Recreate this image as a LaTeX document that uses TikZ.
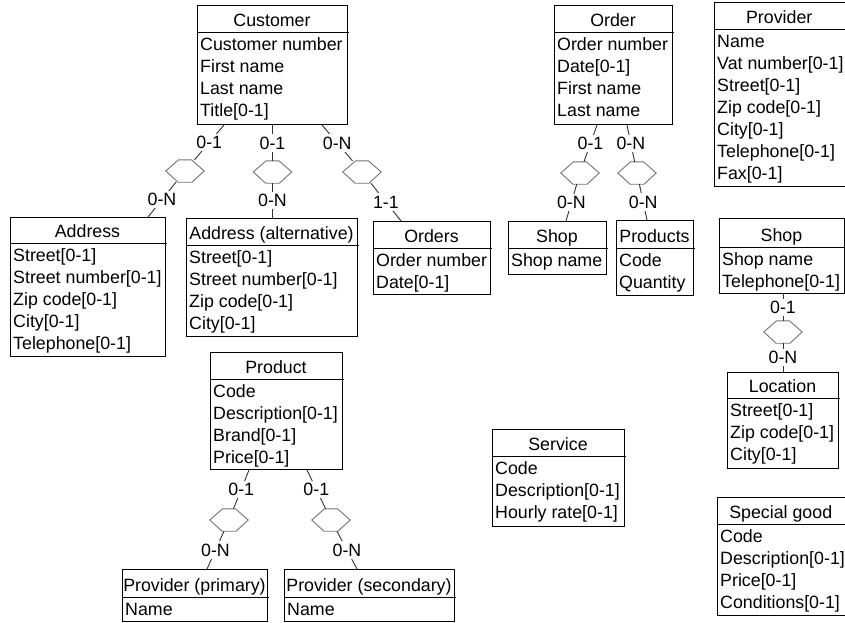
\documentclass[tikz,border=0pt]{standalone}
\usepackage{fontspec}
\setmainfont{Liberation Sans}
\usetikzlibrary{calc}

\tikzset{
  txt/.style={font=\fontsize{17.8}{21}\selectfont},
  ent/.style={draw=black, line width=1pt, inner sep=0pt, anchor=north west},
  enttitle/.style={txt, inner sep=0pt, anchor=base},
  attr/.style={txt, inner sep=0pt, anchor=base west},
  rel/.style={rectangle, minimum width=38pt, minimum height=22pt, inner sep=0pt},
  relline/.style={draw=black!55, line width=0.9pt},
  link/.style={draw=black!80, line width=0.9pt},
  card/.style={txt, fill=white, inner sep=2.5pt},
}

% #1 name, #2 left, #3 top, #4 right, #5 y of header rule, #6 bottom, #7 title, #8 attributes
\newcommand\erentity[8]{%
  \node[ent, minimum width={(#4-#2)*1pt}, minimum height={(#6-#3)*1pt}] (#1) at (#2,#3) {};
  \draw[line width=1pt] (#2,#5) -- ({#4+2},#5);
  \node[enttitle] (#1-title) at ({(#2+#4)/2},{#5-5.5}) {#7};
  \foreach \t [count=\i from 0] in {#8}
    \node[attr] (#1-\i) at ({#2+3},{#5+18.3+22.1*\i}) {\t};
}

% #1 name, #2 #3 centre, #4 upper end, #5 lower end, #6 upper cardinality, #7 lower cardinality
\newcommand\errel[7]{%
  \node[rel] (#1) at (#2,#3) {};
  \draw[relline] (#1.west) -- ($(#1.north)+(-6.5,0)$) -- ($(#1.north)+(6.5,0)$)
    -- (#1.east) -- ($(#1.south)+(7,0)$) -- ($(#1.south)+(-7,0)$) -- cycle;
  \draw[link] (#4) -- node[card] (#1-up) {#6} (#1);
  \draw[link] (#1) -- node[card] (#1-down) {#7} (#5);
}

\begin{document}
\begin{tikzpicture}[x=1pt, y=-1pt]
\useasboundingbox (0,0) rectangle (845,622);

\erentity{cust}{197}{5}{347}{32}{124}{Customer}{Customer number,First name,Last name,Title[0-1]}
\erentity{addr}{10}{217}{165}{243}{356}{Address}{Street[0-1],Street number[0-1],Zip code[0-1],City[0-1],Telephone[0-1]}
\erentity{addralt}{186}{218}{357}{245}{336}{Address (alternative)}{Street[0-1],Street number[0-1],Zip code[0-1],City[0-1]}
\erentity{orders}{373}{221}{490}{248}{294}{Orders}{Order number,Date[0-1]}
\erentity{order}{554}{5}{672}{32}{124}{Order}{Order number,Date[0-1],First name,Last name}
\erentity{prov}{714}{2}{844.5}{29}{186}{Provider}{Name,Vat number[0-1],Street[0-1],Zip code[0-1],City[0-1],Telephone[0-1],Fax[0-1]}
\erentity{shopl}{508}{221}{606}{248}{274}{Shop}{Shop name}
\erentity{products}{616}{220}{693}{248}{295}{Products}{Code,Quantity}
\erentity{shopr}{719}{218}{844}{247}{293}{Shop}{Shop name,Telephone[0-1]}
\erentity{loc}{727}{372}{838}{398}{468}{Location}{Street[0-1],Zip code[0-1],City[0-1]}
\erentity{serv}{492}{429}{624}{456}{526}{Service}{Code,Description[0-1],Hourly rate[0-1]}
\erentity{special}{717}{497}{844.5}{524}{615}{Special good}{Code,Description[0-1],Price[0-1],Conditions[0-1]}
\erentity{product}{210}{352}{342}{379}{469}{Product}{Code,Description[0-1],Brand[0-1],Price[0-1]}
\erentity{provp}{122}{569}{267}{597}{621}{Provider (primary)}{Name}
\erentity{provs}{284}{569}{454}{597}{621}{Provider (secondary)}{Name}

\errel{r1}{185}{171}{$(cust.south west)+(27,0)$}{$(addr.north west)+(138,0)$}{0-1}{0-N}
\errel{r2}{272.5}{172}{$(cust.south west)+(75.5,0)$}{$(addralt.north west)+(86.5,0)$}{0-1}{0-N}
\errel{r3}{362}{172}{$(cust.south west)+(125,0)$}{$(orders.north west)+(28,0)$}{0-N}{1-1}
\errel{r4}{580}{173}{$(order.south west)+(43,0)$}{$(shopl.north west)+(58,0)$}{0-1}{0-N}
\errel{r5}{637}{173}{$(order.south west)+(73,0)$}{$(products.north west)+(31,0)$}{0-N}{0-N}
\errel{r6}{783}{332}{$(shopr.south west)+(64,0)$}{$(loc.north west)+(56,0)$}{0-1}{0-N}
\errel{r7}{229}{520}{$(product.south west)+(39,0)$}{$(provp.north west)+(85,0)$}{0-1}{0-N}
\errel{r8}{331}{520}{$(product.south west)+(97,0)$}{$(provs.north west)+(73,0)$}{0-1}{0-N}

\end{tikzpicture}
\end{document}
